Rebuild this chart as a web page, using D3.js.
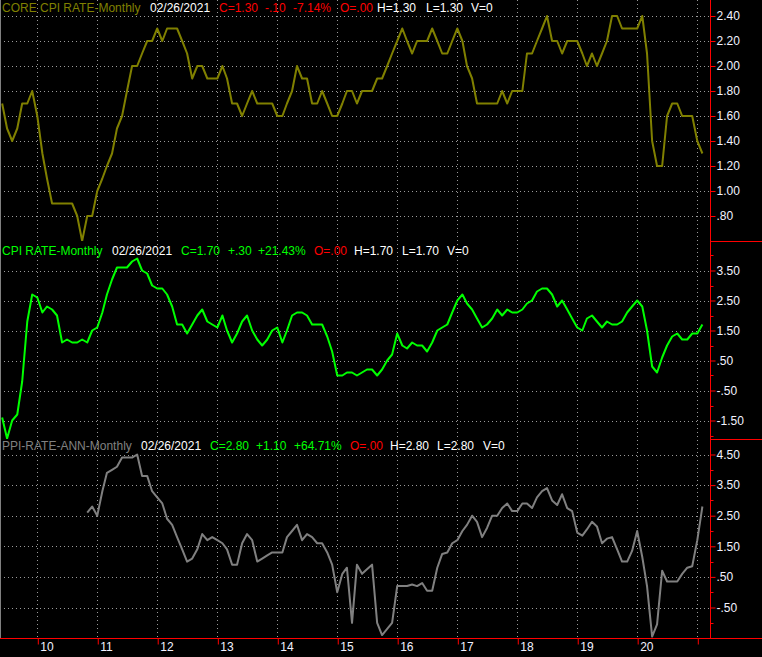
<!DOCTYPE html>
<html>
<head>
<meta charset="utf-8">
<script src="https://cdn.jsdelivr.net/npm/d3@7"></script>
<style>
  html, body { margin: 0; padding: 0; background: #000; }
  svg { display: block; }
  text { font-family: "Liberation Sans", Arial, sans-serif; font-size: 12px; }
</style>
</head>
<body>
<svg id="chart" width="762" height="657"></svg>
<script>
// monthly series
const coreCpiStart = new Date(2009, 5, 1);
const coreCpiValues = [
  1.7, 1.5, 1.4, 1.5, 1.7, 1.7, 1.8,
  1.6, 1.3, 1.1, 0.9, 0.9, 0.9, 0.9, 0.9, 0.8, 0.6, 0.8, 0.8,
  1.0, 1.1, 1.2, 1.3, 1.5, 1.6, 1.8, 2.0, 2.0, 2.1, 2.2, 2.2,
  2.3, 2.2, 2.3, 2.3, 2.3, 2.2, 2.1, 1.9, 2.0, 2.0, 1.9, 1.9,
  1.9, 2.0, 1.9, 1.7, 1.7, 1.6, 1.7, 1.8, 1.7, 1.7, 1.7, 1.7,
  1.6, 1.6, 1.7, 1.8, 2.0, 1.9, 1.9, 1.7, 1.7, 1.8, 1.7, 1.6,
  1.6, 1.7, 1.8, 1.8, 1.7, 1.8, 1.8, 1.8, 1.9, 1.9, 2.0, 2.1,
  2.2, 2.3, 2.2, 2.1, 2.2, 2.2, 2.2, 2.3, 2.2, 2.1, 2.1, 2.2,
  2.3, 2.2, 2.0, 1.9, 1.7, 1.7, 1.7, 1.7, 1.7, 1.8, 1.7, 1.8,
  1.8, 1.8, 2.1, 2.1, 2.2, 2.3, 2.4, 2.2, 2.2, 2.1, 2.2, 2.2,
  2.2, 2.1, 2.0, 2.1, 2.0, 2.1, 2.2, 2.4, 2.4, 2.3, 2.3, 2.3,
  2.3, 2.4, 2.1, 1.4, 1.2, 1.2, 1.6, 1.7, 1.7, 1.6, 1.6, 1.6,
  1.4, 1.3
];

const cpiStart = new Date(2009, 5, 1);
const cpiValues = [
  -1.4, -2.1, -1.5, -1.3, -0.2, 1.8, 2.7,
  2.6, 2.1, 2.3, 2.2, 2.0, 1.1, 1.2, 1.1, 1.1, 1.2, 1.1, 1.5,
  1.6, 2.1, 2.7, 3.2, 3.6, 3.6, 3.6, 3.8, 3.9, 3.5, 3.4, 3.0,
  2.9, 2.9, 2.7, 2.3, 1.7, 1.7, 1.4, 1.7, 2.0, 2.2, 1.8, 1.7,
  1.6, 2.0, 1.5, 1.1, 1.4, 1.8, 2.0, 1.5, 1.2, 1.0, 1.2, 1.5,
  1.6, 1.1, 1.5, 2.0, 2.1, 2.1, 2.0, 1.7, 1.7, 1.7, 1.3, 0.8,
  0.0, 0.0, 0.1, 0.1, 0.0, 0.1, 0.2, 0.2, 0.0, 0.2, 0.5, 0.7,
  1.4, 1.0, 0.9, 1.1, 1.0, 1.0, 0.8, 1.1, 1.5, 1.6, 1.7, 2.1,
  2.5, 2.7, 2.4, 2.2, 1.9, 1.6, 1.7, 1.9, 2.2, 2.0, 2.2, 2.1,
  2.1, 2.2, 2.4, 2.5, 2.8, 2.9, 2.9, 2.7, 2.3, 2.5, 2.2, 1.9,
  1.6, 1.5, 1.9, 2.0, 1.8, 1.6, 1.8, 1.7, 1.7, 1.8, 2.1, 2.3,
  2.5, 2.3, 1.5, 0.3, 0.1, 0.6, 1.0, 1.3, 1.4, 1.2, 1.2, 1.4,
  1.4, 1.7
];

const ppiStart = new Date(2010, 10, 1);
const ppiValues = [
  2.6, 2.8,
  2.5, 3.3, 3.9, 4.0, 4.1, 4.4, 4.4, 4.4, 4.5, 3.8, 3.8, 3.3,
  3.1, 2.9, 2.4, 2.2, 1.8, 1.4, 1.0, 1.1, 1.4, 1.9, 1.7, 1.8,
  1.7, 1.6, 1.4, 0.9, 0.9, 1.6, 1.9, 1.7, 1.0, 1.1, 1.2, 1.3,
  1.3, 1.3, 1.8, 2.0, 2.2, 1.7, 1.9, 1.8, 1.6, 1.6, 1.3, 0.9,
  0.0, 0.6, 0.8, -1.0, 0.9, 0.6, 0.75, 0.9, -1.0, -1.4, -1.2, -1.0,
  0.2, 0.2, 0.2, 0.25, 0.2, 0.3, 0.05, 0.05, 0.8, 1.25, 1.3, 1.6,
  1.7, 2.0, 2.2, 2.5, 2.3, 1.8, 2.1, 2.5, 2.5, 2.75, 2.9, 2.65,
  2.65, 2.9, 2.9, 2.75, 3.1, 3.3, 3.4, 3.0, 2.85, 3.2, 2.75, 2.65,
  1.95, 1.85, 2.05, 2.3, 2.15, 1.6, 1.75, 1.8, 1.4, 1.0, 1.0, 1.35,
  2.0, 1.15, 0.2, -1.45, -1.05, 0.7, 0.35, 0.35, 0.35, 0.6, 0.8, 0.85,
  1.7, 2.8
];

const coreCpiTicks = [0.8, 1.0, 1.2, 1.4, 1.6, 1.8, 2.0, 2.2, 2.4];
const cpiTicks = [-1.5, -0.5, 0.5, 1.5, 2.5, 3.5];
const cpiMinorTicks = [-2, -1, 0, 1, 2, 3, 4];
const ppiTicks = [-0.5, 0.5, 1.5, 2.5, 3.5, 4.5];
const ppiMinorTicks = [-1, 0, 1, 2, 3, 4];

const RED = "#ff0000", GREEN = "#00ff00", WHITE = "#ffffff";

const coreCpiHeader = [
  ["CORE CPI RATE-Monthly", "#808000", 2], ["02/26/2021", WHITE, 150],
  ["C=1.30", RED, 219], ["-.10", RED, 265], ["-7.14%", RED, 293], ["O=.00", RED, 340],
  ["H=1.30", WHITE, 377], ["L=1.30", WHITE, 426], ["V=0", WHITE, 471]
];
const cpiHeader = [
  ["CPI RATE-Monthly", GREEN, 2], ["02/26/2021", WHITE, 112],
  ["C=1.70", GREEN, 181], ["+.30", GREEN, 228], ["+21.43%", GREEN, 258], ["O=.00", RED, 314],
  ["H=1.70", WHITE, 354], ["L=1.70", WHITE, 402], ["V=0", WHITE, 447]
];
const ppiHeader = [
  ["PPI-RATE-ANN-Monthly", "#808080", 2], ["02/26/2021", WHITE, 141],
  ["C=2.80", GREEN, 210], ["+1.10", GREEN, 256], ["+64.71%", GREEN, 294], ["O=.00", RED, 350],
  ["H=2.80", WHITE, 390], ["L=2.80", WHITE, 437], ["V=0", WHITE, 483]
];

const width = 762, height = 657;
const axisX = 710.5;
const bottomY = 638.5;

const svg = d3.select("#chart");
svg.append("rect").attr("width", width).attr("height", height).attr("fill", "#000");

const x = d3.scaleTime()
  .domain([new Date(2010, 0, 1), new Date(2021, 0, 1)])
  .range([37.3, 697.3]);

const panels = [
  {
    id: "core", top: 0, bottom: 241, color: "#808000",
    start: coreCpiStart, values: coreCpiValues, ticks: coreCpiTicks, minor: [],
    y: d3.scaleLinear().domain([0.8, 2.4]).range([216, 16]),
    header: coreCpiHeader, baseline: 12
  },
  {
    id: "cpi", top: 241, bottom: 439, color: GREEN,
    start: cpiStart, values: cpiValues, ticks: cpiTicks, minor: cpiMinorTicks,
    y: d3.scaleLinear().domain([-1.5, 3.5]).range([420.5, 270.5]),
    header: cpiHeader, baseline: 255
  },
  {
    id: "ppi", top: 439, bottom: 638, color: "#808080",
    start: ppiStart, values: ppiValues, ticks: ppiTicks, minor: ppiMinorTicks,
    y: d3.scaleLinear().domain([-0.5, 4.5]).range([607.5, 454.5]),
    header: ppiHeader, baseline: 450
  }
];

// "0.80" -> ".80", "-0.50" -> "-.50" (d3 uses a unicode minus)
function fmtTick(v) {
  return d3.format(".2f")(v)
    .replace("\u2212", "-")
    .replace(/^0\./, ".")
    .replace(/^-0\./, "-.");
}

const years = d3.timeYear.range(new Date(2010, 0, 1), new Date(2021, 0, 2));

// vertical dotted grid
svg.append("g")
  .selectAll("line")
  .data(years)
  .join("line")
    .attr("x1", d => Math.round(x(d)) + 0.5)
    .attr("x2", d => Math.round(x(d)) + 0.5)
    .attr("y1", 0)
    .attr("y2", bottomY)
    .attr("stroke", "#9a9a9a")
    .attr("stroke-dasharray", "1,3");

const defs = svg.append("defs");

panels.forEach(p => {
  // horizontal dotted grid
  svg.append("g")
    .selectAll("line")
    .data(p.ticks)
    .join("line")
      .attr("x1", 0)
      .attr("x2", axisX)
      .attr("y1", d => Math.round(p.y(d)) + 0.5)
      .attr("y2", d => Math.round(p.y(d)) + 0.5)
      .attr("stroke", "#9a9a9a")
      .attr("stroke-dasharray", "1,3");

  defs.append("clipPath")
    .attr("id", `clip-${p.id}`)
    .append("rect")
      .attr("x", 0)
      .attr("y", p.top)
      .attr("width", axisX)
      .attr("height", p.bottom - p.top);

  const data = p.values.map((v, i) => ({ date: d3.timeMonth.offset(p.start, i), value: v }));
  const line = d3.line()
    .x(d => x(d.date))
    .y(d => p.y(d.value));

  svg.append("path")
    .datum(data)
    .attr("clip-path", `url(#clip-${p.id})`)
    .attr("fill", "none")
    .attr("stroke", p.color)
    .attr("stroke-width", 2)
    .attr("stroke-linejoin", "round")
    .attr("d", line);

  // right axis
  const axis = d3.axisRight(p.y)
    .tickValues(p.ticks)
    .tickFormat(fmtTick)
    .tickSize(5)
    .tickPadding(1);
  const g = svg.append("g")
    .attr("transform", `translate(${axisX},0)`)
    .call(axis);
  g.select(".domain").remove();
  g.selectAll(".tick line").attr("stroke", RED);
  g.selectAll(".tick text")
    .attr("fill", "#f2f2ff")
    .style("font-family", '"Liberation Sans", Arial, sans-serif')
    .style("font-size", "12px");

  svg.append("g")
    .selectAll("line")
    .data(p.minor)
    .join("line")
      .attr("x1", axisX)
      .attr("x2", axisX + 3)
      .attr("y1", d => Math.round(p.y(d)) + 0.5)
      .attr("y2", d => Math.round(p.y(d)) + 0.5)
      .attr("stroke", RED);

  // header
  svg.append("g")
    .selectAll("text")
    .data(p.header)
    .join("text")
      .attr("x", d => d[2])
      .attr("y", p.baseline)
      .attr("fill", d => d[1])
      .text(d => d[0]);
});

// frame lines
svg.append("line")
  .attr("x1", 0.5).attr("x2", 0.5).attr("y1", 0).attr("y2", bottomY)
  .attr("stroke", "#808080");
svg.append("line")
  .attr("x1", axisX).attr("x2", axisX).attr("y1", 0).attr("y2", bottomY)
  .attr("stroke", RED);
[241.5, 439.5].forEach(yy => {
  svg.append("line")
    .attr("x1", axisX).attr("x2", width).attr("y1", yy).attr("y2", yy)
    .attr("stroke", RED);
});

// bottom time axis
const xAxis = d3.axisBottom(x)
  .tickValues(years)
  .tickFormat(d3.timeFormat("%y"))
  .tickSize(6)
  .tickSizeOuter(0);
const xg = svg.append("g")
  .attr("transform", `translate(0.5,${bottomY})`)
  .call(xAxis);
xg.select(".domain").remove();
xg.selectAll(".tick line").attr("stroke", RED);
xg.selectAll(".tick text")
  .attr("fill", "#f2f2ff")
  .attr("text-anchor", "start")
  .attr("x", 2)
  .attr("y", 4)
  .style("font-family", '"Liberation Sans", Arial, sans-serif')
  .style("font-size", "12px")
  .text((d, i) => i === years.length - 1 ? "" : d3.timeFormat("%y")(d));

svg.append("line")
  .attr("x1", 0).attr("x2", width).attr("y1", bottomY).attr("y2", bottomY)
  .attr("stroke", RED);
</script>
</body>
</html>
